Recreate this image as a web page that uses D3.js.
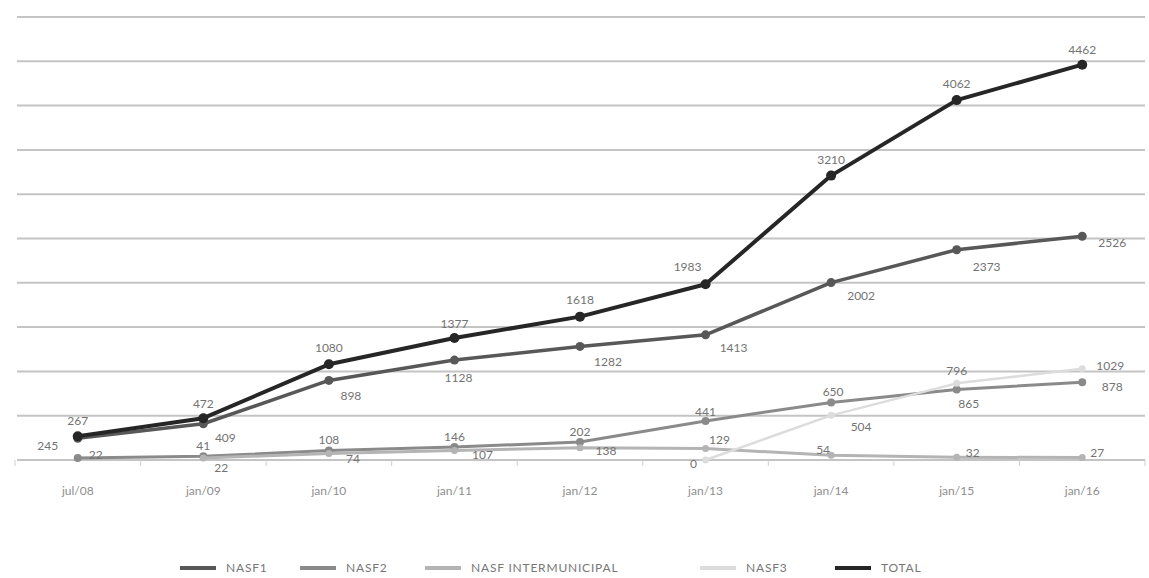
<!DOCTYPE html>
<html>
<head>
<meta charset="utf-8">
<script src="https://cdn.jsdelivr.net/npm/d3@7"></script>
<style>
  body { margin: 0; background: #fff; }
  text { font-family: Lato, "Open Sans", sans-serif; }
</style>
</head>
<body>
<div id="chart"></div>
<script>
var categories = ["jul/08", "jan/09", "jan/10", "jan/11", "jan/12", "jan/13", "jan/14", "jan/15", "jan/16"];
var nasf1 = [245, 409, 898, 1128, 1282, 1413, 2002, 2373, 2526];
var nasf2 = [22, 41, 108, 146, 202, 441, 650, 796, 878];
var nasfInter = [null, 22, 74, 107, 138, 129, 54, 32, 27];
var nasf3 = [null, null, null, null, null, 0, 504, 865, 1029];
var total = [267, 472, 1080, 1377, 1618, 1983, 3210, 4062, 4462];
var seriesNames = ["NASF1", "NASF2", "NASF INTERMUNICIPAL", "NASF3", "TOTAL"];
var yTicks = [0, 500, 1000, 1500, 2000, 2500, 3000, 3500, 4000, 4500, 5000];

function main() {
    var width = 1149, height = 578;
    var svg = d3.select("#chart").append("svg")
                .attr("width", width).attr("height", height);

    var x = d3.scaleBand().domain(categories).range([15, 1145]);
    var y = d3.scaleLinear().domain([0, 5000]).range([460, 17]);
    var cx = function(i){ return x(categories[i]) + x.bandwidth() / 2; };

    // label placement per series: [dx, dy] for each point
    var series = [
        {name: seriesNames[0], values: nasf1, color: "#585858", w: 3.5, r: 4.5,
         off: [[-30, 8], [22, 14], [22, 16], [4, 18], [28, 16], [28, 13], [30, 13], [30, 17], [30, 7]]},
        {name: seriesNames[1], values: nasf2, color: "#8a8a8a", w: 3, r: 4,
         off: [[18, -3], [0, -10], [0, -10], [0, -10], [0, -10], [0, -9], [2, -10], [0, -18], [30, 5]]},
        {name: seriesNames[2], values: nasfInter, color: "#b4b4b4", w: 3, r: 3.5,
         off: [null, [18, 10], [24, 6], [28, 4], [26, 3], [14, -9], [-8, -5], [16, -4], [15, -5]]},
        {name: seriesNames[3], values: nasf3, color: "#dcdcdc", w: 2.5, r: 3.5,
         off: [null, null, null, null, null, [-12, 4], [30, 12], [12, 21], [28, -3]]},
        {name: seriesNames[4], values: total, color: "#262626", w: 4, r: 5,
         off: [[0, -15], [0, -14], [0, -16], [0, -14], [0, -17], [-18, -17], [0, -16], [0, -16], [0, -15]]}
    ];

    // gridlines
    svg.append("g").selectAll("line").data(yTicks).enter().append("line")
        .attr("x1", 17).attr("x2", 1145)
        .attr("y1", function(d){ return y(d); }).attr("y2", function(d){ return y(d); })
        .attr("stroke", "#c4c4c4").attr("stroke-width", 2);

    // small ticks between categories
    var ticks = categories.map(function(c){ return x(c); }).concat([x.range()[1]]);
    svg.append("g").selectAll("line").data(ticks).enter().append("line")
        .attr("x1", function(d){ return d; }).attr("x2", function(d){ return d; })
        .attr("y1", 460).attr("y2", 466)
        .attr("stroke", "#cfcfcf").attr("stroke-width", 1);

    // category labels
    svg.append("g").selectAll("text").data(categories).enter().append("text")
        .attr("x", function(d){ return x(d) + x.bandwidth() / 2; })
        .attr("y", 495).attr("text-anchor", "middle")
        .attr("font-size", 12).attr("fill", "#8e8e8e")
        .text(function(d){ return d; });

    var line = d3.line()
        .defined(function(d){ return d.v !== null; })
        .x(function(d){ return cx(d.i); })
        .y(function(d){ return y(d.v); });

    series.forEach(function(s){
        var pts = s.values.map(function(v, i){ return {v: v, i: i}; });
        var g = svg.append("g");
        g.append("path").datum(pts).attr("d", line)
            .attr("fill", "none").attr("stroke", s.color)
            .attr("stroke-width", s.w).attr("stroke-linejoin", "round");
        var valid = pts.filter(function(d){ return d.v !== null; });
        g.selectAll("circle").data(valid).enter().append("circle")
            .attr("cx", function(d){ return cx(d.i); })
            .attr("cy", function(d){ return y(d.v); })
            .attr("r", s.r).attr("fill", s.color);
        s.labels = valid;
    });

    // value labels drawn after lines
    series.forEach(function(s){
        svg.append("g").selectAll("text").data(s.labels).enter().append("text")
            .attr("x", function(d){ return cx(d.i) + s.off[d.i][0]; })
            .attr("y", function(d){ return y(d.v) + s.off[d.i][1] + 4; })
            .attr("text-anchor", "middle")
            .attr("font-size", 12).attr("fill", "#737373")
            .text(function(d){ return d.v; });
    });

    // legend
    var legendX = [180, 300, 425, 700, 835];
    var legend = svg.append("g").selectAll("g").data(series).enter().append("g")
        .attr("transform", function(d, i){ return "translate(" + legendX[i] + ",568)"; });
    legend.append("line").attr("x1", 0).attr("x2", 36).attr("y1", 0).attr("y2", 0)
        .attr("stroke", function(d){ return d.color; }).attr("stroke-width", 4);
    legend.append("text").attr("x", 46).attr("y", 4)
        .attr("font-size", 12).attr("fill", "#777").attr("letter-spacing", 0.8)
        .text(function(d){ return d.name; });
}
main();
</script>
</body>
</html>
